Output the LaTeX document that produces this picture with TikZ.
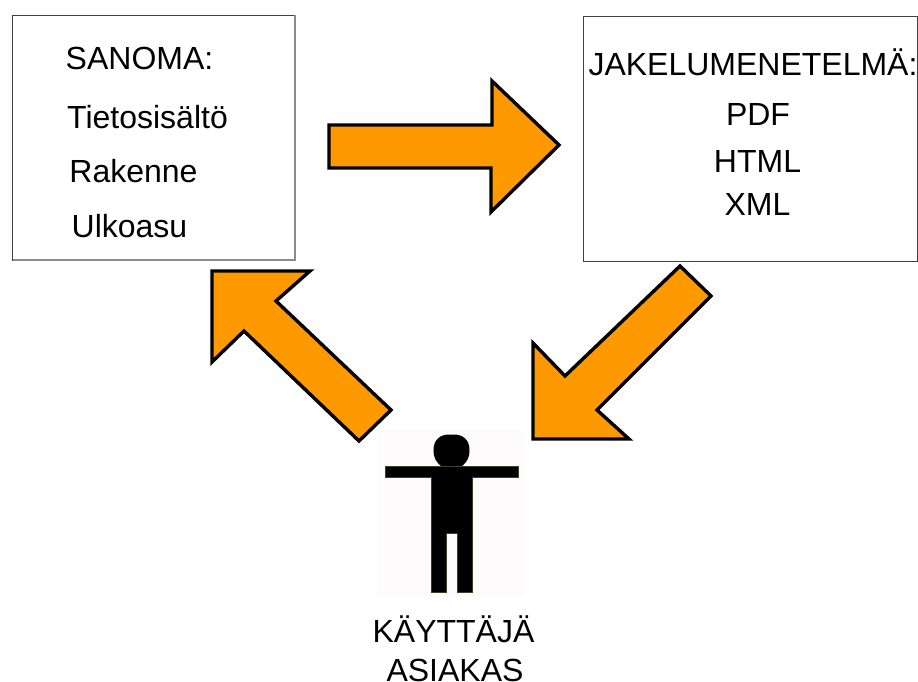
\documentclass[tikz,border=0pt]{standalone}
\usepackage{fontspec}
\setmainfont{Liberation Sans}
\definecolor{arrowfill}{HTML}{FF9900}
\definecolor{figbg}{HTML}{FDFBFC}
\definecolor{figedge}{HTML}{3F3F26}
\tikzset{
  panel/.style={draw=black!75,line width=0.7pt,fill=white},
  panelshade/.style={draw=black!45,line width=1.1pt},
  bigarrow/.style={draw=black,line width=3.4pt,fill=arrowfill,miter limit=10},
  label/.style={inner sep=0pt,anchor=base,font=\fontsize{32}{34}\selectfont,text=black},
}
\begin{document}
\begin{tikzpicture}[x=1pt,y=-1pt]
\useasboundingbox (0,0) rectangle (918,682);
\draw[panel] (12.5,15.5) rectangle (295,260);
\draw[panelshade] (295,15.5) -- (295,260) -- (12.5,260);
\draw[panel] (583.7,16.5) rectangle (917.5,261);
\node[label] (s1) at (139.5,69.5) {SANOMA:};
\node[label] (s2) at (147.5,128.5) {Tietosisältö};
\node[label] (s3) at (133.5,182.5) {Rakenne};
\node[label] (s4) at (129.5,237) {Ulkoasu};
\node[label] (j1) at (753,76) {JAKELUMENETELMÄ:};
\node[label] (j2) at (758,125.5) {PDF};
\node[label] (j3) at (757.5,172.5) {HTML};
\node[label] (j4) at (757.5,215) {XML};
\draw[bigarrow] (329,125) -- (492,125) -- (492,81) -- (559,145) -- (491,212) -- (491,168) -- (329,168) -- cycle;
\draw[bigarrow] (680,266) -- (711,296) -- (597,410) -- (629,439) -- (533,439) -- (533,343) -- (565,376) -- cycle;
\draw[bigarrow] (391,410) -- (359,441) -- (244,331) -- (212,362) -- (212,271) -- (310,271) -- (276,301) -- cycle;
\fill[figbg] (377,430) rectangle (524,597);
\fill[black] (442,467) .. controls (436,462) and (433.5,458) .. (433.5,450)
  .. controls (433.5,440) and (440,434.5) .. (449,434.5) -- (454,434.5)
  .. controls (463,434.5) and (469.5,440) .. (469.5,450)
  .. controls (469.5,458) and (467,462) .. (461,467) -- cycle;
\draw[figedge,line width=0.4pt,fill=black] (385,466) rectangle (518,477);
\draw[figedge,line width=0.3pt,fill=black] (431,477) -- (431,592) -- (446,592) -- (446,533) -- (457,533) -- (457,592) -- (472,592) -- (472,477);
\fill[black] (431.5,470) rectangle (471.5,477.5);
\node[label] (u1) at (453.5,642) {KÄYTTÄJÄ};
\node[label] (u2) at (455,681.5) {ASIAKAS};
\end{tikzpicture}
\end{document}
